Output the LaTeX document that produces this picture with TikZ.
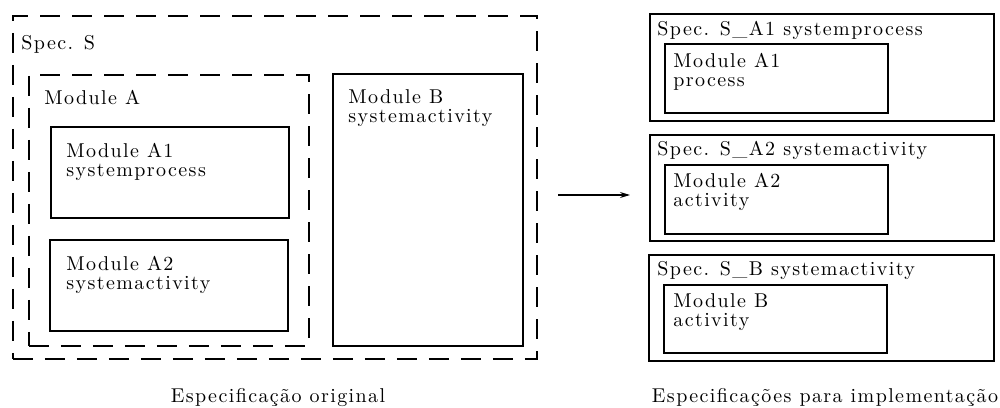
\documentclass[tikz,border=0pt]{standalone}
\usepackage{fontspec}
\setmainfont{Latin Modern Roman}[LetterSpace=7]
\usepackage{tikz}
\usetikzlibrary{arrows.meta}
\usetikzlibrary{positioning}

\begin{document}
\begin{tikzpicture}[x=0.5pt,y=-0.5pt,
    modbox/.style={draw,line width=0.8pt},
    specbox/.style={draw,line width=0.8pt,dash pattern=on 10pt off 6pt},
    txt/.style={anchor=north west,inner sep=0pt,align=left,font=\fontsize{10}{9.5}\selectfont},
    caption/.style={anchor=base,inner sep=0pt,font=\fontsize{10}{12}\selectfont}]
    \useasboundingbox (0,0) rectangle (1000,407);
    % original specification
    \begin{scope}[every node/.style={anchor=north west,inner sep=0pt}]
    \node[specbox,minimum width=262pt,minimum height=171.5pt] (S) at (12,15) {};
    \node[specbox,minimum width=140pt,minimum height=135.5pt] (A) at (28,74) {};
    \node[modbox,minimum width=119pt,minimum height=45.5pt] (A1) at (50,126) {};
    \node[modbox,minimum width=119pt,minimum height=45.5pt] (A2) at (49,239) {};
    \node[modbox,minimum width=95pt,minimum height=136pt] (B) at (332,73) {};
    \end{scope}
    \node[txt] (tS) at (21,35) {Spec. S};
    \node[txt] (tA) at (44,90) {Module A};
    \node[txt] (tA1) at (66,143) {Module A1\\systemprocess};
    \node[txt] (tA2) at (66,256) {Module A2\\systemactivity};
    \node[txt] (tB) at (348,89) {Module B\\systemactivity};
    \node[caption] (orig) at (278,402) {Especificação original};
    % specifications for implementation
    \begin{scope}[every node/.style={anchor=north west,inner sep=0pt}]
    \node[modbox,minimum width=172pt,minimum height=53.5pt] (SA1) at (649,13) {};
    \node[modbox,minimum width=111.5pt,minimum height=34.5pt] (iA1) at (664,43) {};
    \node[modbox,minimum width=172pt,minimum height=53pt] (SA2) at (649,134) {};
    \node[modbox,minimum width=111.5pt,minimum height=34.5pt] (iA2) at (664,164) {};
    \node[modbox,minimum width=172.5pt,minimum height=53pt] (SB) at (648,254) {};
    \node[modbox,minimum width=111.5pt,minimum height=34pt] (iB) at (663,284) {};
    \end{scope}
    \node[txt] (tSA1) at (657,21) {Spec. S\_A1 systemprocess};
    \node[txt] (tiA1) at (673,53) {Module A1\\process};
    \node[txt] (tSA2) at (657,141) {Spec. S\_A2 systemactivity};
    \node[txt] (tiA2) at (673,173) {Module A2\\activity};
    \node[txt] (tSB) at (657,261) {Spec. S\_B systemactivity};
    \node[txt] (tiB) at (673,293) {Module B\\activity};
    \node[caption] (impl) at (825,402) {Especificações para implementação};
    % transformation arrow
    \coordinate (from) at (558,195);
    \coordinate (to) at (630,195);
    \draw[-{Stealth[length=5pt,width=3pt]},line width=0.6pt] (from) -- (to);
\end{tikzpicture}
\end{document}
